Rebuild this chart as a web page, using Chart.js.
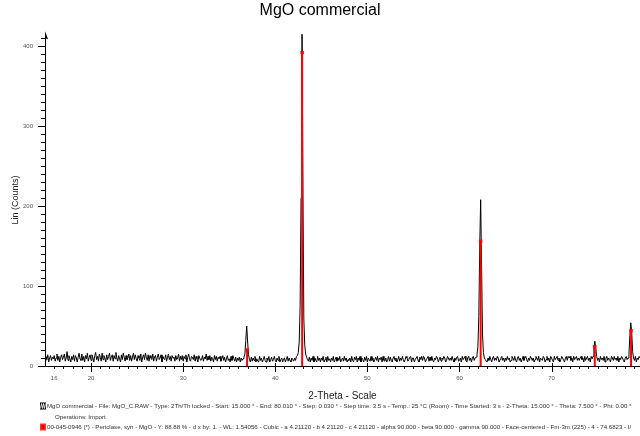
<!DOCTYPE html>
<html>
<head>
<meta charset="utf-8">
<title>MgO commercial</title>
<script src="https://cdn.jsdelivr.net/npm/chart.js@4.4.0/dist/chart.umd.min.js"></script>
<style>
  html, body { margin: 0; padding: 0; background: #fff; }
  #wrap { width: 640px; height: 436px; }
</style>
</head>
<body>
<div id="wrap"><canvas id="xrd-chart" width="640" height="436"></canvas></div>
<script>
// scan: 2-theta start / step of the plotted pattern
const startAngle = 15.0;
const stepAngle = 0.1;

// measured counts, one row per degree (15.0 .. 79.7)
const counts = [
  6,12,8,14,5,10,13,7,11,9,
  13,6,10,15,7,12,5,11,14,8,
  11,15,6,10,18,7,13,9,5,12,
  8,14,6,13,10,5,11,16,9,7,
  15,7,12,5,13,9,16,6,11,14,
  7,14,10,5,13,17,8,12,6,15,
  11,6,16,8,13,10,5,14,8,12,
  16,7,11,14,6,13,9,17,10,6,
  13,9,5,14,8,16,11,6,13,8,
  10,15,7,13,6,11,16,8,14,9,
  6,13,10,7,15,5,11,14,8,16,
  11,7,14,6,13,10,8,15,6,12,
  13,6,11,15,8,10,14,5,12,9,
  8,14,6,11,15,8,12,6,13,10,
  11,6,13,8,10,15,6,12,8,13,
  6,12,9,14,5,11,15,8,6,12,
  11,8,14,6,12,9,5,13,10,7,
  8,13,6,11,9,15,7,12,8,13,
  6,11,9,5,13,8,12,6,11,9,
  12,6,9,13,7,11,5,9,13,7,
  9,5,12,7,13,9,6,11,5,10,
  7,11,5,10,7,9,11,15,32,50,
  30,14,8,5,11,6,10,7,12,5,
  9,6,5,12,7,10,5,8,12,7,
  5,10,7,12,5,8,11,6,8,12,
  7,5,10,7,12,5,8,10,5,9,
  10,5,8,12,6,10,7,5,10,8,
  6,10,7,12,13,17,30,75,210,440,
  230,60,26,15,11,8,6,11,5,10,
  7,12,5,10,7,5,12,7,10,5,
  10,7,12,5,8,11,5,12,7,9,
  5,10,7,12,5,8,11,6,10,7,
  12,5,8,10,6,12,7,10,5,8,
  7,10,5,12,7,5,11,8,12,5,
  10,7,12,5,10,8,5,11,7,12,
  5,10,8,6,12,7,10,5,8,11,
  7,12,5,10,8,11,5,12,7,6,
  10,5,8,12,6,11,7,5,10,12,
  7,10,5,8,12,6,10,7,12,8,
  5,8,12,10,6,8,11,12,5,10,
  10,5,8,10,12,7,5,11,8,12,
  7,12,10,5,8,10,12,6,11,7,
  12,7,5,10,8,12,10,5,8,11,
  6,10,8,12,10,5,7,12,10,7,
  10,7,12,8,5,10,7,11,12,6,
  7,10,5,12,8,10,12,7,5,10,
  12,7,10,5,10,12,7,10,11,14,
  24,62,150,208,125,40,17,10,8,6,
  5,10,7,12,8,5,10,12,7,10,
  7,12,10,5,8,10,12,7,10,5,
  10,7,12,8,10,5,7,12,10,7,
  12,7,5,10,12,7,10,5,8,12,
  7,10,12,8,5,10,7,12,10,7,
  10,5,8,12,10,7,12,5,10,8,
  7,12,10,5,8,12,7,10,5,12,
  10,7,5,12,8,10,12,7,10,5,
  8,12,10,7,5,10,12,7,12,10,
  12,7,10,5,12,8,10,12,7,10,
  7,10,12,8,10,5,12,7,10,12,
  7,10,5,12,9,12,24,31,22,12,
  7,10,5,12,8,10,7,12,5,10,
  12,7,10,8,5,12,10,7,12,8,
  10,7,12,5,10,8,12,10,7,5,
  10,12,8,10,15,38,54,42,18,10,
  7,12,5,10,8,12,10,7
];

// reference pattern 00-045-0946 Periclase, stick positions and heights
const stickAngles = [36.94, 42.92, 62.30, 74.69, 78.63];
const stickHeights = [20, 392, 156, 24, 44];

// labelled ticks
const xTickLabels = [16, 20, 30, 40, 50, 60, 70];
const yTickLabels = [0, 100, 200, 300, 400];

const legendLines = [
  'MgO commercial - File: MgO_C.RAW - Type: 2Th/Th locked - Start: 15.000 ° - End: 80.010 ° - Step: 0.030 ° - Step time: 3.5 s - Temp.: 25 °C (Room) - Time Started: 3 s - 2-Theta: 15.000 ° - Theta: 7.500 ° - Phi: 0.00 °',
  'Operations: Import',
  '00-045-0946 (*) - Periclase, syn - MgO - Y: 88.88 % - d x by: 1. - WL: 1.54056 - Cubic - a 4.21120 - b 4.21120 - c 4.21120 - alpha 90.000 - beta 90.000 - gamma 90.000 - Face-centered - Fm-3m (225) - 4 - 74.6823 - I/'
];

const pattern = counts.map((c, i) => ({ x: +(startAngle + i * stepAngle).toFixed(2), y: c }));

const sticks = [];
stickAngles.forEach((a, i) => {
  sticks.push({ x: a, y: 0 }, { x: a, y: stickHeights[i] }, { x: a, y: null });
});

const FONT = '"Liberation Sans", Arial, sans-serif';

// tick marks, arrow on the y axis, the scan legend
const decorations = {
  id: 'decorations',
  afterDraw(chart) {
    const ctx = chart.ctx;
    const xs = chart.scales.x, ys = chart.scales.y;
    const area = chart.chartArea;
    ctx.save();
    ctx.strokeStyle = '#000';
    ctx.lineWidth = 1;
    ctx.beginPath();
    xs.ticks.forEach(t => {
      const px = Math.round(xs.getPixelForValue(t.value)) + 0.5;
      if (t.value % 10 === 0) {
        ctx.moveTo(px, area.bottom - 3);
        ctx.lineTo(px, area.bottom + 6);
      } else {
        ctx.moveTo(px, area.bottom);
        ctx.lineTo(px, area.bottom + 3);
      }
    });
    ys.ticks.forEach(t => {
      const py = Math.round(ys.getPixelForValue(t.value)) + 0.5;
      const len = t.value % 100 === 0 ? 7 : 4;
      ctx.moveTo(area.left - len, py);
      ctx.lineTo(area.left, py);
    });
    ctx.stroke();

    // axis arrow
    ctx.fillStyle = '#000';
    ctx.beginPath();
    ctx.moveTo(area.left, area.top - 3);
    ctx.lineTo(area.left + 3, area.top + 5);
    ctx.lineTo(area.left, area.top + 4);
    ctx.closePath();
    ctx.fill();

    // legend, sized so the first line fills the width
    const lx = 40, tx = 47, targetW = 586;
    const rows = [406, 417, 427];
    ctx.font = '6px ' + FONT;
    const size = Math.min(7, 6 * targetW / ctx.measureText(legendLines[0]).width);
    ctx.font = size.toFixed(2) + 'px ' + FONT;
    ctx.textBaseline = 'middle';
    ctx.fillStyle = '#333';
    ctx.fillText(legendLines[0], tx, rows[0], targetW);
    ctx.fillText(legendLines[1], tx + 8, rows[1], targetW);
    ctx.fillText(legendLines[2], tx, rows[2], targetW);

    // pattern icon
    ctx.fillStyle = '#000';
    ctx.fillRect(lx, rows[0] - 3.5, 6, 7);
    ctx.strokeStyle = '#fff';
    ctx.lineWidth = 0.8;
    ctx.beginPath();
    ctx.moveTo(lx + 0.5, rows[0] + 2.5);
    ctx.lineTo(lx + 1.5, rows[0] - 2.5);
    ctx.lineTo(lx + 2.5, rows[0] + 2.5);
    ctx.lineTo(lx + 3.5, rows[0] - 2.5);
    ctx.lineTo(lx + 4.5, rows[0] + 2.5);
    ctx.lineTo(lx + 5.5, rows[0] - 2.5);
    ctx.stroke();

    // card icon
    ctx.fillStyle = '#ff3030';
    ctx.fillRect(lx, rows[2] - 3.5, 6, 7);
    ctx.fillStyle = '#e00000';
    ctx.fillRect(lx + 1.5, rows[2] - 2, 3, 4);
    ctx.restore();
  }
};

const config = {
  type: 'line',
  data: {
    datasets: [
      {
        label: 'Periclase',
        data: sticks,
        borderColor: '#ff0000',
        backgroundColor: '#ff0000',
        borderWidth: 2,
        spanGaps: false,
        pointStyle: 'rect',
        pointRadius: ctx => (ctx.raw && ctx.raw.y > 0 ? 2.4 : 0),
        pointBorderWidth: 0,
        pointBackgroundColor: '#ff0000',
        order: 0
      },
      {
        label: 'MgO commercial',
        data: pattern,
        borderColor: '#000',
        borderWidth: 1,
        pointRadius: 0,
        tension: 0,
        order: 1
      }
    ]
  },
  options: {
    responsive: false,
    animation: false,
    events: [],
    layout: { padding: { left: 0, right: 0, top: 0, bottom: 34 } },
    plugins: {
      legend: { display: false },
      tooltip: { enabled: false },
      title: {
        display: true,
        text: 'MgO commercial',
        color: '#000',
        font: { family: FONT, size: 16, weight: 'normal' },
        padding: { top: 1, bottom: 14 }
      }
    },
    scales: {
      x: {
        type: 'linear',
        min: 15,
        max: 79.6,
        afterBuildTicks: scale => {
          const t = [];
          for (let v = 16; v <= 79; v++) t.push({ value: v });
          scale.ticks = t;
        },
        afterFit: scale => { scale.height = 36; },
        border: { display: true, color: '#000', width: 1 },
        grid: { display: false },
        ticks: {
          autoSkip: false,
          maxRotation: 0,
          padding: 1,
          color: '#555',
          font: { family: FONT, size: 6 },
          callback: v => (xTickLabels.includes(v) ? String(v) : '')
        },
        title: {
          display: true,
          text: '2-Theta - Scale',
          color: '#222',
          font: { family: FONT, size: 10 },
          padding: { top: 0, bottom: 0 }
        }
      },
      y: {
        min: 0,
        max: 415,
        afterBuildTicks: scale => {
          const t = [];
          for (let v = 0; v <= 410; v += 10) t.push({ value: v });
          scale.ticks = t;
        },
        afterFit: scale => { scale.width = 45; },
        border: { display: true, color: '#000', width: 1 },
        grid: { display: false },
        ticks: {
          autoSkip: false,
          padding: 4,
          color: '#555',
          font: { family: FONT, size: 6 },
          callback: v => (yTickLabels.includes(v) ? String(v) : '')
        },
        title: {
          display: true,
          text: 'Lin (Counts)',
          color: '#222',
          font: { family: FONT, size: 9 },
          padding: { top: 10, bottom: 0 }
        }
      }
    }
  },
  plugins: [decorations]
};

const ctx = document.getElementById('xrd-chart').getContext('2d');
new Chart(ctx, config);
</script>
</body>
</html>
